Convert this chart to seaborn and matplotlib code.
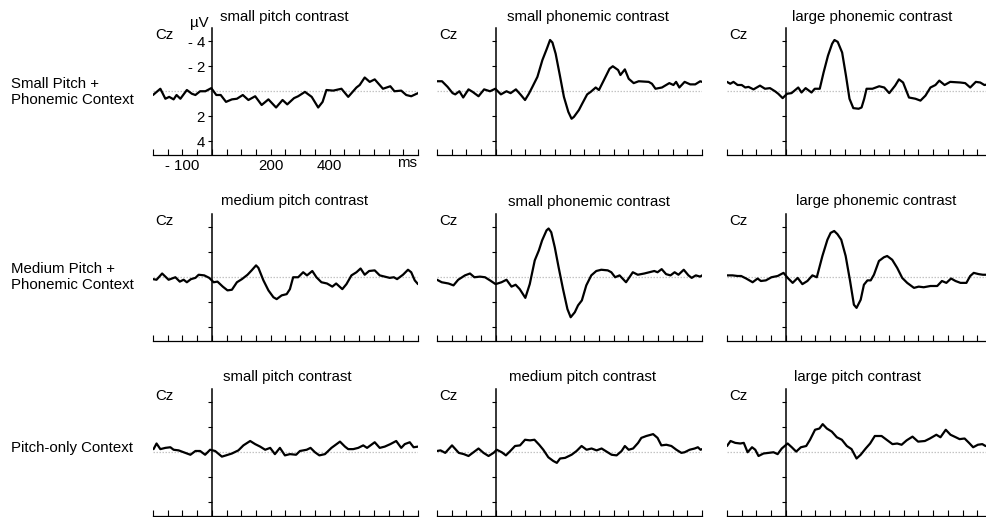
import numpy as np
import pandas as pd
import matplotlib
matplotlib.use("Agg")
import matplotlib.pyplot as plt
import seaborn as sns

sns.set_style("ticks")
plt.rcParams["font.family"] = ["Liberation Sans", "DejaVu Sans"]
plt.rcParams["text.color"] = "black"
plt.rcParams["xtick.color"] = "black"
plt.rcParams["ytick.color"] = "black"
plt.rcParams["axes.edgecolor"] = "black"

# ---------------- data ----------------
row_labels = ["Small Pitch +\nPhonemic Context",
              "Medium Pitch +\nPhonemic Context",
              "Pitch-only Context"]
panel_titles = [["small pitch contrast", "small phonemic contrast", "large phonemic contrast"],
                ["medium pitch contrast", "small phonemic contrast", "large phonemic contrast"],
                ["small pitch contrast", "medium pitch contrast", "large pitch contrast"]]
channel = "Cz"
unit_y = "µV"
unit_x = "ms"
ytick_vals = [-4, -2, 2, 4]
ytick_text = ["- 4", "- 2", "2", "4"]
xtick_vals = list(range(-200, 701, 50))
xtick_text = {-100: "- 100", 200: "200", 400: "400"}

t_r1c1 = [-200,-175,-158,-145,-130,-120,-107,-85,-68,-56,-40,-22,-2,15,30,48,68,85,105,124,147,169,192,218,240,256,279,293,316,339,361,376,389,412,440,463,491,502,519,536,553,581,606,620,643,660,677,700]
v_r1c1 = [0.3,-0.2,0.6,0.45,0.65,0.3,0.6,-0.1,0.2,0.3,0,0,-0.25,0.3,0.3,0.85,0.65,0.6,0.3,0.7,0.4,1.1,0.65,1.3,0.7,1.05,0.55,0.4,0.05,0.45,1.3,0.85,-0.1,-0.05,-0.2,0.45,-0.3,-0.5,-1.1,-0.75,-0.95,-0.2,-0.4,0,-0.05,0.3,0.4,0.15]

t_r1c2 = [-200,-183,-164,-147,-138,-124,-111,-93,-79,-59,-40,-20,-2,17,36,50,68,85,99,112,124,141,158,173,184,192,203,217,231,246,257,265,282,293,310,322,339,350,367,386,397,415,423,438,451,468,485,519,530,542,564,589,603,612,623,641,660,677,694,700]
v_r1c2 = [-0.8,-0.8,-0.35,0.15,0.25,0,0.5,-0.15,0.05,0.4,-0.15,0,-0.2,0.25,0,0.15,-0.15,0.3,0.7,0.2,-0.35,-1.15,-2.5,-3.4,-4.1,-3.9,-3.0,-1.3,0.45,1.65,2.2,2.05,1.5,1.0,0.25,0.05,-0.3,-0.1,-0.9,-1.8,-2.0,-1.7,-1.3,-1.75,-1.0,-0.65,-0.8,-0.75,-0.6,-0.2,-0.3,-0.65,-0.5,-0.75,-0.3,-0.75,-0.55,-0.55,-0.8,-0.75]

t_r1c3 = [-200,-189,-178,-164,-150,-138,-127,-110,-88,-71,-54,-37,-26,-11,4,19,42,53,67,87,98,115,128,143,157,165,176,191,204,216,229,247,257,266,274,294,317,334,351,371,384,398,418,429,440,457,474,491,508,521,539,558,592,609,626,645,660,674,700]
v_r1c3 = [-0.75,-0.6,-0.75,-0.5,-0.5,-0.3,-0.35,-0.15,-0.45,-0.2,-0.25,0,0.2,0.55,0.2,0.15,-0.3,0.1,-0.25,0.1,-0.2,-0.2,-1.5,-2.85,-3.8,-4.1,-3.95,-3.1,-1.25,0.6,1.35,1.4,1.3,0.6,-0.2,-0.2,-0.4,-0.3,0.15,-0.45,-0.95,-0.7,0.5,0.55,0.6,0.75,0.35,-0.3,-0.5,-0.85,-0.5,-0.75,-0.7,-0.65,-0.3,-0.75,-0.7,-0.5,-0.6]

t_r2c1 = [-200,-188,-169,-147,-124,-109,-96,-85,-71,-56,-45,-26,-9,6,19,37,53,68,85,102,121,135,150,158,175,192,209,220,237,254,265,276,293,310,323,341,355,372,391,409,422,443,457,474,491,505,519,534,553,570,587,604,618,629,649,666,677,689,700]
v_r2c1 = [0.15,0.2,-0.3,0.2,0,0.35,0.2,0.4,0.15,0.05,-0.2,-0.15,0.05,0.4,0.35,0.75,1.05,1.0,0.4,0.15,-0.2,-0.55,-0.95,-0.75,0.25,1.05,1.6,1.75,1.45,1.35,0.95,0,0,-0.4,-0.15,-0.5,0,0.4,0.5,0.75,0.5,0.95,0.55,-0.15,-0.4,-0.7,-0.2,-0.5,-0.55,-0.15,-0.05,0.05,0,0.15,-0.2,-0.6,-0.4,0.25,0.55]

t_r2c2 = [-200,-184,-161,-144,-128,-105,-88,-73,-54,-37,-20,-1,19,36,53,67,81,100,115,132,146,157,172,179,188,200,213,228,243,254,268,279,292,307,324,341,358,380,392,405,420,442,465,482,504,521,538,549,563,578,593,607,620,638,654,665,679,694,700]
v_r2c2 = [0.2,0.4,0.5,0.65,0.2,-0.15,-0.3,0,-0.05,0,0.25,0.55,0.4,0.2,0.75,0.6,0.95,1.65,0.55,-1.35,-2.15,-2.95,-3.75,-3.9,-3.6,-2.4,-0.8,0.95,2.55,3.2,2.8,2.25,1.85,0.65,-0.15,-0.5,-0.6,-0.55,-0.4,0,-0.15,0.4,-0.4,-0.2,-0.3,-0.4,-0.5,-0.4,-0.65,-0.25,-0.15,-0.4,-0.2,-0.6,-0.15,0.05,-0.15,-0.05,-0.15]

t_r2c3 = [-200,-181,-164,-152,-135,-113,-96,-85,-68,-49,-28,-8,6,23,40,56,73,90,105,124,141,152,164,175,188,203,218,231,240,254,265,277,288,299,316,333,344,361,378,395,412,435,451,468,491,514,530,545,561,576,593,613,626,638,655,669,700]
v_r2c3 = [-0.15,-0.15,-0.1,-0.1,0.1,0.4,0.1,0.3,0.25,0,-0.1,-0.35,0.05,0.45,0.05,0.55,0.3,-0.15,0,-1.7,-3.0,-3.55,-3.7,-3.45,-3.0,-1.7,0.3,2.2,2.45,1.8,0.6,0.25,0.25,-0.2,-1.3,-1.6,-1.7,-1.4,-0.75,0.05,0.45,0.85,0.75,0.8,0.7,0.7,0.3,0.45,0.1,0.3,0.45,0.45,-0.1,-0.35,-0.25,-0.2,-0.2]

t_r3c1 = [-198,-188,-175,-158,-141,-130,-113,-96,-73,-56,-40,-23,-6,11,34,48,68,90,107,130,147,164,181,198,214,231,248,265,286,299,322,335,350,365,384,406,435,452,463,480,497,514,527,553,570,587,606,626,643,655,672,685,700]
v_r3c1 = [-0.25,-0.7,-0.25,-0.35,-0.4,-0.2,-0.15,0,0.2,-0.1,-0.1,0.2,-0.2,-0.1,0.35,0.25,0.1,-0.15,-0.55,-0.9,-0.65,-0.45,-0.2,-0.35,0.15,-0.35,0.25,0.15,0.2,-0.1,-0.2,-0.35,0,0.25,0.15,-0.35,-0.85,-0.45,-0.25,-0.25,-0.35,-0.55,-0.35,-0.8,-0.35,-0.45,-0.65,-0.9,-0.35,-0.65,-0.8,-0.4,-0.45]

t_r3c2 = [-200,-188,-172,-149,-126,-109,-93,-76,-59,-42,-25,-8,3,20,34,49,65,82,99,116,131,147,161,178,195,207,218,235,257,274,291,308,325,342,359,376,393,410,427,438,451,466,483,494,511,534,549,562,579,596,613,630,641,658,675,686,695,700]
v_r3c2 = [-0.1,-0.15,0.05,-0.55,0.05,0.15,0.3,0,-0.3,0.05,0.3,0.05,-0.2,0,0.25,-0.1,-0.5,-0.55,-1.0,-0.95,-1.0,-0.6,-0.2,0.4,0.7,0.85,0.5,0.45,0.2,-0.1,-0.5,-0.2,-0.3,-0.15,-0.3,-0.05,0.2,0.25,-0.1,-0.5,-0.2,-0.3,-0.75,-1.15,-1.3,-1.45,-1.15,-0.55,-0.6,-0.5,-0.2,0.05,0,-0.2,-0.3,-0.4,-0.2,-0.25]

t_r3c3 = [-200,-188,-172,-155,-143,-130,-115,-104,-93,-76,-59,-42,-28,-14,6,20,35,51,69,82,99,114,125,139,156,173,190,207,223,240,254,271,286,302,325,342,362,378,393,410,430,449,472,489,511,525,543,559,577,590,607,622,636,652,667,678,700]
v_r3c3 = [-0.5,-0.9,-0.75,-0.7,-0.75,0,-0.4,-0.2,0.3,0.1,0.05,0,0.15,-0.3,-0.7,-0.4,-0.05,-0.4,-0.5,-1.0,-1.8,-1.9,-2.25,-1.9,-1.65,-1.2,-1.0,-0.5,-0.25,0.5,0.2,-0.3,-0.7,-1.3,-1.3,-1.0,-0.65,-0.7,-0.6,-0.95,-1.25,-0.85,-0.9,-1.1,-1.4,-1.2,-1.8,-1.4,-1.2,-1.05,-1.1,-0.75,-0.4,-0.6,-0.65,-0.5,-0.55]

waves = [[(t_r1c1, v_r1c1), (t_r1c2, v_r1c2), (t_r1c3, v_r1c3)],
         [(t_r2c1, v_r2c1), (t_r2c2, v_r2c2), (t_r2c3, v_r2c3)],
         [(t_r3c1, v_r3c1), (t_r3c2, v_r3c2), (t_r3c3, v_r3c3)]]

# ---------------- layout ----------------
W, H = 986, 517
FS = 10.8
fig = plt.figure(figsize=(W / 100, H / 100), dpi=100)

def fx(x):
    return x / W

def fy(y):
    return 1 - y / H

col_left = [153, 437, 727]
row_top = [28, 214, 389]
ax_w, ax_h = 265, 127
title_pos = [[(284, 17), (588, 17), (872, 17)],
             [(295, 201), (589, 202), (876, 201)],
             [(287, 377), (583, 377), (857, 377)]]
row_label_y = [92, 277, 448]

for r in range(3):
    fig.text(fx(11), fy(row_label_y[r]), row_labels[r], ha="left", va="center",
             fontsize=FS, linespacing=1.12)
    for c in range(3):
        L, T = col_left[c], row_top[r]
        ax = fig.add_axes([fx(L), fy(T + ax_h), ax_w / W, ax_h / H])
        ax.set_facecolor("none")
        t, v = waves[r][c]
        df = pd.DataFrame({"time": t, "amp": v})
        ax.axhline(0, color="#c4c4c4", lw=0.9, ls=(0, (1.2, 1.2)), zorder=1)
        sns.lineplot(data=df, x="time", y="amp", ax=ax, color="black", lw=1.6,
                     sort=False, estimator=None, zorder=3)
        ax.set_xlim(-200, 700)
        ax.set_ylim(5.1, -5.06)
        ax.set_xlabel("")
        ax.set_ylabel("")
        for s in ["top", "right"]:
            ax.spines[s].set_visible(False)
        ax.spines["left"].set_position(("data", 0))
        ax.spines["left"].set_linewidth(1.1)
        ax.spines["bottom"].set_linewidth(0.9)
        ax.set_yticks(ytick_vals)
        ax.set_xticks(xtick_vals)
        ax.tick_params(axis="x", direction="in", length=4, width=0.8, pad=3, labelsize=FS)
        ax.tick_params(axis="y", direction="out", length=3, width=0.8, pad=2, labelsize=FS)
        if r == 0 and c == 0:
            ax.set_yticklabels(ytick_text)
            ax.set_xticklabels([xtick_text.get(x, "") for x in xtick_vals])
            fig.text(fx(199), fy(23), unit_y, ha="center", va="center", fontsize=FS)
            fig.text(fx(407), fy(163), unit_x, ha="center", va="center", fontsize=FS)
        else:
            ax.set_yticklabels([])
            ax.set_xticklabels([])
        fig.text(fx(L + 2), fy(T + 7), channel, ha="left", va="center", fontsize=FS)
        tx, ty = title_pos[r][c]
        fig.text(fx(tx), fy(ty), panel_titles[r][c], ha="center", va="center", fontsize=FS)

fig.savefig("out.png", dpi=100)
